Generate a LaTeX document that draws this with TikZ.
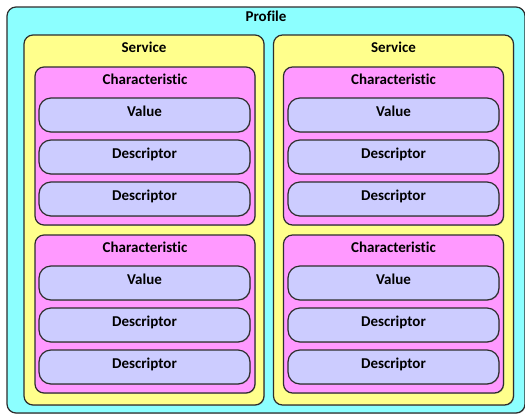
\documentclass[tikz,border=0pt]{standalone}
\usepackage{fontspec}
\setmainfont{Carlito}[Ligatures=NoCommon]
\usetikzlibrary{shadows}

\definecolor{profilecol}{RGB}{140,255,255}
\definecolor{servicecol}{RGB}{255,255,140}
\definecolor{charcol}{RGB}{255,153,255}
\definecolor{itemcol}{RGB}{204,204,255}
\definecolor{edgecol}{RGB}{45,45,45}

\tikzset{
  box/.style={draw=edgecol, line width=1.2pt, rounded corners=9pt,
    drop shadow={shadow xshift=0.8pt, shadow yshift=-0.8pt, opacity=0.35},
    font=\bfseries\fontsize{15}{17}\selectfont, inner sep=0pt},
  title/.style={anchor=base, font=\bfseries\fontsize{15}{17}\selectfont},
  profilebox/.style={box, fill=profilecol, minimum width=518pt, minimum height=406pt,
    label={[title,yshift=-15pt]north:Profile}},
  servicebox/.style={box, fill=servicecol, minimum width=240pt, minimum height=370pt,
    label={[title,yshift=-18pt]north:Service}},
  charbox/.style={box, fill=charcol, minimum width=220pt, minimum height=158pt,
    label={[title,yshift=-18pt]north:Characteristic}},
  itembox/.style={box, fill=itemcol, rounded corners=12pt,
    minimum width=211pt, minimum height=34pt, text height=11pt, text depth=8.5pt}
}

\begin{document}
\begin{tikzpicture}[x=1pt,y=-1pt]
  \useasboundingbox (0,0) rectangle (525,416);

  \node[profilebox] (profile) at (266,210) {};

  % services
  \node[servicebox] (s1) at (144,220) {};
  \node[servicebox] (s2) at (393.5,220) {};

  % characteristics
  \node[charbox] (c11) at (145,146) {};
  \node[charbox] (c12) at (145,314) {};
  \node[charbox] (c21) at (393.5,146) {};
  \node[charbox] (c22) at (393.5,314) {};

  % values and descriptors
  \begin{scope}[every node/.append style={itembox}]
    \node (v11)  at (144.5,115) {Value};
    \node (d111) at (144.5,157) {Descriptor};
    \node (d112) at (144.5,199) {Descriptor};
    \node (v12)  at (144.5,283) {Value};
    \node (d121) at (144.5,325) {Descriptor};
    \node (d122) at (144.5,367) {Descriptor};
    \node (v21)  at (393.5,115) {Value};
    \node (d211) at (393.5,157) {Descriptor};
    \node (d212) at (393.5,199) {Descriptor};
    \node (v22)  at (393.5,283) {Value};
    \node (d221) at (393.5,325) {Descriptor};
    \node (d222) at (393.5,367) {Descriptor};
  \end{scope}

\end{tikzpicture}
\end{document}
